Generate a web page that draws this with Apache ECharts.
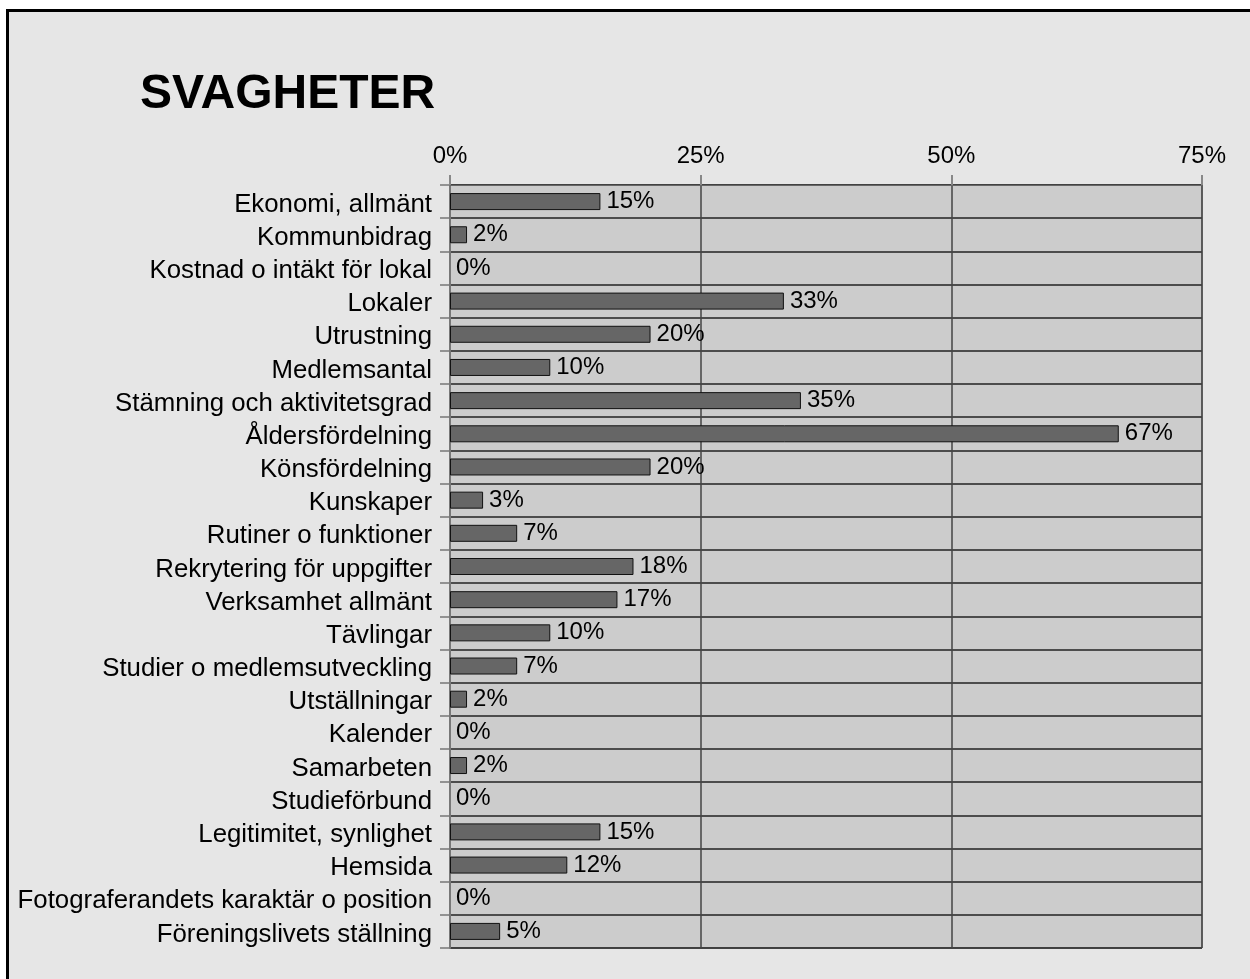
<!DOCTYPE html>
<html>
<head>
<meta charset="utf-8">
<script src="https://cdn.jsdelivr.net/npm/echarts@6/dist/echarts.min.js"></script>
<style>
html,body{margin:0;padding:0;background:#fff;width:1250px;height:979px;overflow:hidden;}
#frame{position:absolute;left:6px;top:9px;width:1300px;height:1100px;border:3px solid #000;background:#e6e6e6;}
#chart{position:absolute;left:0;top:0;width:1250px;height:979px;}
</style>
</head>
<body>
<div id="frame"></div>
<div id="chart"></div>
<script>
const titleText = 'SVAGHETER';
const categories = [
  'Ekonomi, allmänt',
  'Kommunbidrag',
  'Kostnad o intäkt för lokal',
  'Lokaler',
  'Utrustning',
  'Medlemsantal',
  'Stämning och aktivitetsgrad',
  'Åldersfördelning',
  'Könsfördelning',
  'Kunskaper',
  'Rutiner o funktioner',
  'Rekrytering för uppgifter',
  'Verksamhet allmänt',
  'Tävlingar',
  'Studier o medlemsutveckling',
  'Utställningar',
  'Kalender',
  'Samarbeten',
  'Studieförbund',
  'Legitimitet, synlighet',
  'Hemsida',
  'Fotograferandets karaktär o position',
  'Föreningslivets ställning'
];
const values = [15, 1.7, 0, 33.3, 20, 10, 35, 66.7, 20, 3.3, 6.7, 18.3, 16.7, 10, 6.7, 1.7, 0, 1.7, 0, 15, 11.7, 0, 5];
const xTicks = [0, 25, 50, 75];

const chart = echarts.init(document.getElementById('chart'), null, {renderer: 'canvas'});
const font = '"Liberation Sans", Arial, sans-serif';
chart.setOption({
  backgroundColor: 'transparent',
  animation: false,
  textStyle: {fontFamily: font},
  title: {
    text: titleText,
    left: 135,
    top: 66,
    textStyle: {fontFamily: font, fontSize: 48, fontWeight: 'bold', color: '#000'}
  },
  grid: {
    left: 450, top: 185, right: 48, bottom: 31,
    show: true, backgroundColor: '#cccccc', borderColor: '#666', borderWidth: 1,
    containLabel: false
  },
  xAxis: {
    type: 'value',
    position: 'top',
    min: xTicks[0], max: xTicks[xTicks.length - 1], interval: 25,
    axisLine: {show: true, lineStyle: {color: '#666', width: 1}},
    axisTick: {show: true, length: 10, lineStyle: {color: '#888', width: 2}},
    axisLabel: {formatter: '{value}%', fontSize: 24, color: '#000', margin: 17, fontFamily: font},
    splitLine: {show: true, lineStyle: {color: '#444', width: 1.5}}
  },
  yAxis: {
    type: 'category',
    data: categories,
    inverse: true,
    axisLine: {show: true, lineStyle: {color: '#777', width: 2}},
    axisTick: {show: true, interval: 0, length: 10, lineStyle: {color: '#777', width: 1.5}},
    axisLabel: {
      interval: 0, hideOverlap: false, color: '#000', margin: 18,
      formatter: v => '{c|' + v + '}',
      rich: {c: {fontSize: 25.8, color: '#000', fontFamily: font, padding: [6, 0, 0, 0]}}
    },
    splitLine: {show: true, interval: 0, lineStyle: {color: '#222', width: 1.5}}
  },
  series: [{
    type: 'bar',
    data: values.map(v => v === 0 ? {value: v, itemStyle: {borderWidth: 0}} : v),
    barWidth: 17,
    itemStyle: {color: '#666666', borderColor: '#111', borderWidth: 1},
    label: {
      show: true, position: 'right', distance: 6,
      formatter: p => Math.round(p.value) + '%',
      fontSize: 24, color: '#000', fontFamily: font, padding: [3, 0, 0, 0]
    }
  }]
});
</script>
</body>
</html>
